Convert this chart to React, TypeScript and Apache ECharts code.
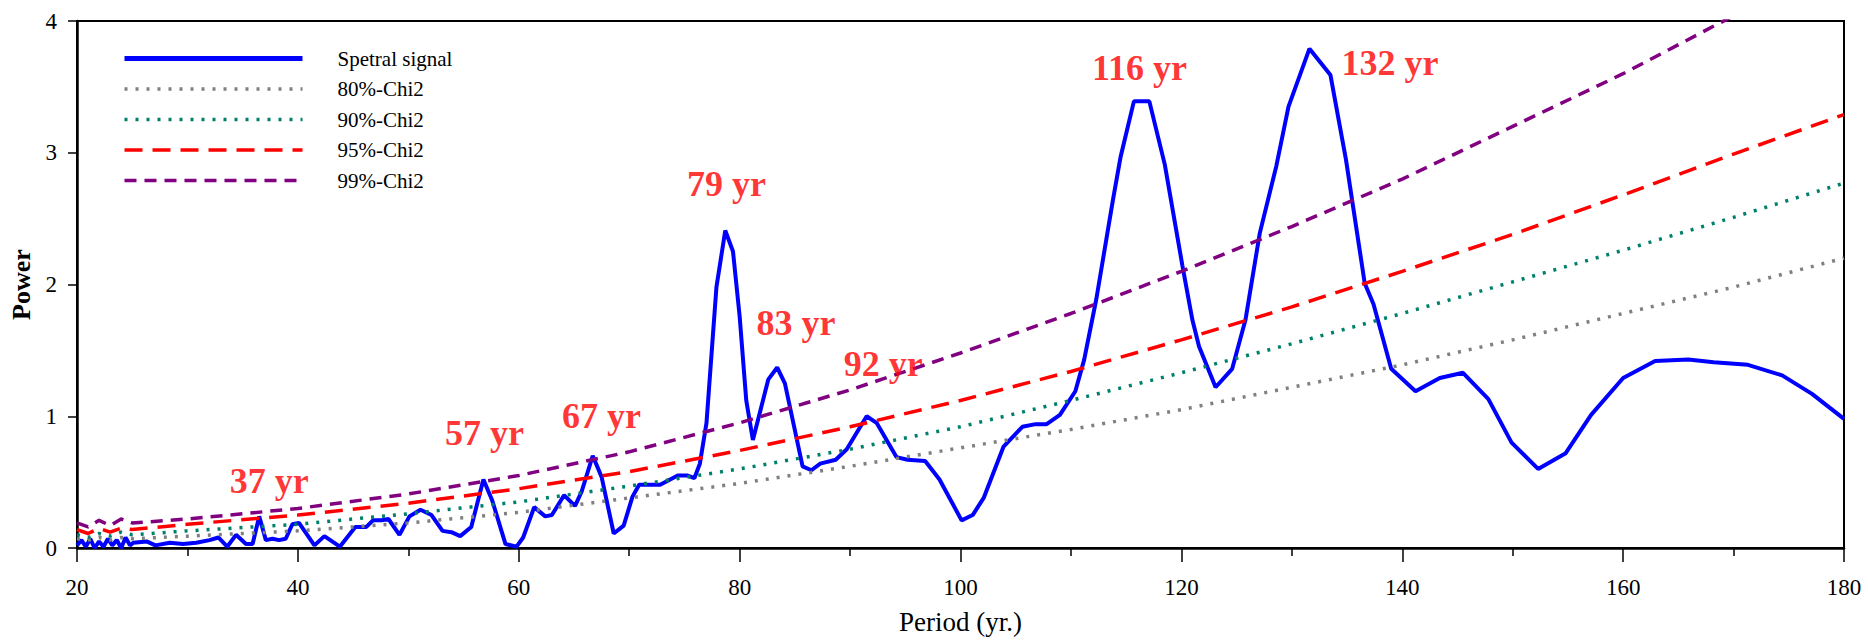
import React, { useEffect, useRef } from "react";
import * as echarts from "echarts";

const signalPeriod = [
  20, 20.4, 20.8, 21.2, 21.6, 22.0, 22.4, 22.8, 23.2, 23.6, 24.0, 24.4, 24.8, 25.1, 26.3, 27.1, 28.4, 29.6,
  30.8, 32.0, 32.8, 33.6, 34.4, 35.3, 35.9, 36.5, 37.1, 37.7, 38.3, 38.9, 39.5, 40.1, 41.5, 42.4, 43.8,
  45.2, 46.2, 46.8, 47.6, 48.2, 49.2, 50.1, 51.1, 52.1, 53.1, 53.9, 54.7, 55.7, 56.8, 57.6, 58.8, 59.8,
  60.4, 61.4, 62.4, 63.0, 64.1, 65.1, 65.7, 66.7, 67.5, 68.6, 69.5, 70.3, 70.9, 72.8, 74.4, 75.3, 75.9,
  76.4, 77.0, 77.9, 78.7, 79.4, 80.0, 80.6, 81.2, 82.6, 83.4, 84.1, 85.7, 86.5, 87.3, 88.7, 89.7, 91.5,
  92.4, 94.2, 95.2, 96.8, 98.1, 100.1, 101.1, 102.1, 103.9, 105.6, 106.8, 107.8, 109.0, 110.4, 111.2,
  112.3, 113.8, 114.5, 115.7, 117.1, 118.5, 120.1, 121.0, 121.6, 123.1, 124.6, 125.8, 127.1, 128.6,
  129.7, 131.6, 133.5, 134.9, 136.6, 137.4, 139.0, 141.2, 143.4, 145.5, 147.8, 149.9, 152.3, 154.8,
  157.1, 160.0, 162.9, 165.9, 168.2, 171.3, 174.4, 177.1, 180.0,
];
const signalPower = [
  0.02, 0.06, 0.01, 0.07, 0.0, 0.05, 0.01, 0.07, 0.02, 0.06, 0.0, 0.08, 0.02, 0.04, 0.05, 0.02, 0.04, 0.03,
  0.04, 0.06, 0.08, 0.01, 0.10, 0.03, 0.03, 0.24, 0.06, 0.07, 0.06, 0.07, 0.18, 0.19, 0.02, 0.09, 0.01,
  0.16, 0.16, 0.21, 0.21, 0.22, 0.10, 0.24, 0.29, 0.25, 0.13, 0.12, 0.09, 0.16, 0.52, 0.36, 0.03, 0.01,
  0.08, 0.31, 0.24, 0.25, 0.40, 0.32, 0.43, 0.70, 0.54, 0.11, 0.17, 0.39, 0.48, 0.48, 0.55, 0.55, 0.53,
  0.64, 0.95, 1.98, 2.41, 2.25, 1.76, 1.12, 0.82, 1.28, 1.37, 1.25, 0.62, 0.59, 0.64, 0.67, 0.75, 1.0,
  0.95, 0.69, 0.67, 0.66, 0.52, 0.21, 0.25, 0.38, 0.77, 0.92, 0.94, 0.94, 1.01, 1.19, 1.43,
  1.89, 2.64, 2.97, 3.39, 3.39, 2.91, 2.14, 1.73, 1.53, 1.22, 1.36, 1.73, 2.39, 2.90,
  3.35, 3.79, 3.59, 2.95, 2.01, 1.85, 1.36, 1.19, 1.29, 1.33, 1.13, 0.80, 0.60, 0.72,
  1.01, 1.29, 1.42, 1.43, 1.41, 1.39, 1.31, 1.17, 0.98,
];

const chiPeriod = [20, 21, 22, 23, 24, 25, 30, 40, 50, 60, 70, 80, 90, 100, 110, 120, 130, 140, 150, 160, 170, 180];
const chi80 = [0.07, 0.06, 0.08, 0.06, 0.08, 0.07, 0.09, 0.13, 0.19, 0.27, 0.38, 0.49, 0.62, 0.76, 0.9, 1.05, 1.22, 1.39, 1.58, 1.78, 1.98, 2.2];
const chi90 = [0.1, 0.08, 0.11, 0.09, 0.12, 0.1, 0.13, 0.18, 0.26, 0.35, 0.47, 0.6, 0.75, 0.92, 1.12, 1.33, 1.55, 1.78, 2.02, 2.26, 2.51, 2.77];
const chi95 = [0.14, 0.11, 0.15, 0.12, 0.15, 0.14, 0.18, 0.25, 0.34, 0.45, 0.58, 0.74, 0.92, 1.12, 1.34, 1.58, 1.83, 2.1, 2.38, 2.68, 2.99, 3.29];
const chi99 = [0.19, 0.16, 0.21, 0.17, 0.22, 0.19, 0.22, 0.3, 0.41, 0.55, 0.73, 0.95, 1.2, 1.48, 1.78, 2.1, 2.44, 2.8, 3.2, 3.6, 4.04, 4.5];

const peakLabels = ["37 yr", "57 yr", "67 yr", "79 yr", "83 yr", "92 yr", "116 yr", "132 yr"];
const peakLabelX = [37.4, 56.9, 67.5, 78.8, 85.1, 93.0, 116.2, 138.9];
const peakLabelY = [0.51, 0.87, 1.0, 2.76, 1.71, 1.4, 3.64, 3.68];

const xTicks = { min: 20, max: 180, interval: 20 };
const yTicks = { min: 0, max: 4, interval: 1 };

const seriesNames = ["Spetral signal", "80%-Chi2", "90%-Chi2", "95%-Chi2", "99%-Chi2"];
const legendWidths = [5, 3.5, 3.5, 3.5, 3.5];

const pair = (xs: number[], ys: number[]) => xs.map((x, i) => [x, ys[i]]);

export default function App() {
  const ref = useRef<HTMLDivElement>(null);
  useEffect(() => {
    if (!ref.current) return;
    const chart = echarts.init(ref.current, undefined, { renderer: "svg" });
    const serif = "'Liberation Serif', 'Times New Roman', serif";
    const lineSeries = (name: string, data: number[][], color: string, width: number, type: any) => ({
      name,
      type: "line",
      data,
      showSymbol: false,
      symbol: "none",
      smooth: false,
      clip: true,
      lineStyle: { color, width, type, cap: "butt" },
      itemStyle: { color },
    });
    chart.setOption({
      animation: false,
      backgroundColor: "#fff",
      grid: {
        left: 77,
        right: 24,
        top: 21,
        bottom: 94,
        show: true,
        borderColor: "#000",
        borderWidth: 2,
        backgroundColor: "transparent",
      },
      legend: {
        orient: "vertical",
        left: 117,
        top: 43,
        itemWidth: 178,
        itemHeight: 12,
        itemGap: 9.5,
        data: seriesNames.map((n, i) => ({ name: n, lineStyle: { width: legendWidths[i] } })),
        itemStyle: { opacity: 0, borderWidth: 0 },
        textStyle: { fontFamily: serif, fontSize: 21, color: "#000", padding: [0, 0, 0, 30] },
      },
      xAxis: {
        type: "value",
        min: xTicks.min,
        max: xTicks.max,
        interval: xTicks.interval,
        name: "Period (yr.)",
        nameLocation: "middle",
        nameGap: 60,
        nameTextStyle: { fontFamily: serif, fontSize: 27, color: "#000" },
        axisLine: { show: true, onZero: false, lineStyle: { color: "#000", width: 2.5 } },
        axisTick: { show: true, inside: false, length: 14, lineStyle: { color: "#000", width: 1.5 } },
        minorTick: { show: true, splitNumber: 2, length: 8, lineStyle: { color: "#000", width: 1.5 } },
        axisLabel: { fontFamily: serif, fontSize: 23, color: "#000", margin: 28 },
        splitLine: { show: false },
      },
      yAxis: {
        type: "value",
        min: yTicks.min,
        max: yTicks.max,
        interval: yTicks.interval,
        name: "Power",
        nameLocation: "middle",
        nameGap: 40,
        nameTextStyle: { fontFamily: serif, fontSize: 26, fontWeight: "bold", color: "#000" },
        axisLine: { show: true, onZero: false, lineStyle: { color: "#000", width: 2.5 } },
        axisTick: { show: true, inside: false, length: 9, lineStyle: { color: "#000", width: 1.5 } },
        axisLabel: { fontFamily: serif, fontSize: 23, color: "#000", margin: 20 },
        splitLine: { show: false },
      },
      series: [
        lineSeries(seriesNames[0], pair(signalPeriod, signalPower), "#0000ff", 4, "solid"),
        lineSeries(seriesNames[1], pair(chiPeriod, chi80), "#808080", 3.5, [3, 8]),
        lineSeries(seriesNames[2], pair(chiPeriod, chi90), "#00806a", 3.5, [3, 8]),
        lineSeries(seriesNames[3], pair(chiPeriod, chi95), "#ff0000", 3.5, [18, 10]),
        lineSeries(seriesNames[4], pair(chiPeriod, chi99), "#800080", 3.5, [12, 8]),
        {
          name: "peaks",
          type: "scatter",
          data: pair(peakLabelX, peakLabelY),
          symbolSize: 1,
          itemStyle: { color: "rgba(0,0,0,0)" },
          silent: true,
          z: 10,
          label: {
            show: true,
            position: "inside",
            formatter: (p: any) => peakLabels[p.dataIndex],
            fontFamily: serif,
            fontSize: 36,
            fontWeight: "bold",
            color: "#ff0000",
          },
        },
      ],
    });
    return () => chart.dispose();
  }, []);
  return (
    <div
      ref={ref}
      style={{ position: "fixed", left: 0, top: 0, width: 1868, height: 642, background: "#fff" }}
    />
  );
}
